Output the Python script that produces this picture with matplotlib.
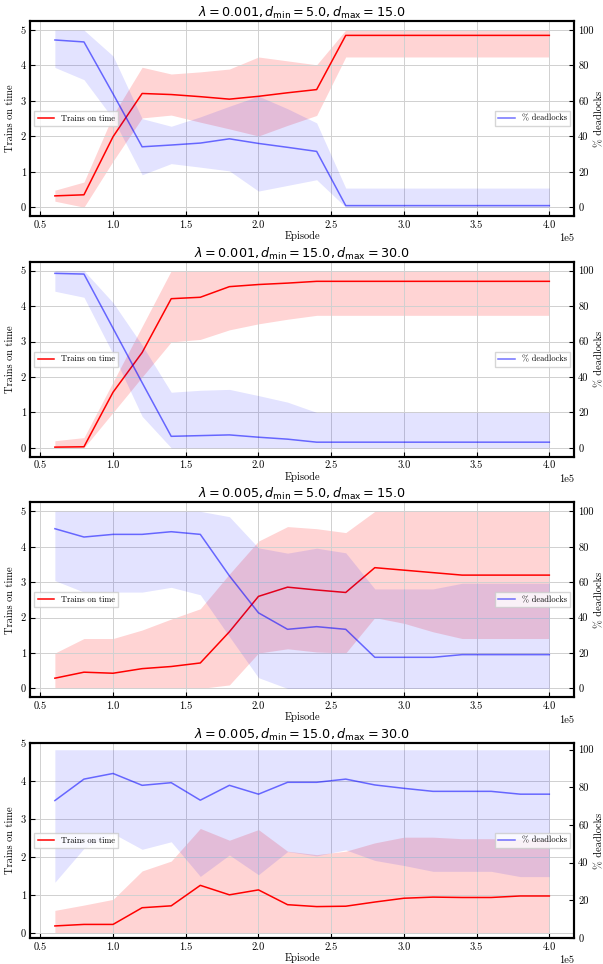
import matplotlib
matplotlib.use('Agg')
import matplotlib.pyplot as plt


episodes = [60000, 80000, 100000, 120000, 140000, 160000, 180000, 200000, 220000,
            240000, 260000, 280000, 300000, 320000, 340000, 360000, 380000, 400000]

titles = [r'$\lambda = 0.001, d_{\mathrm{min}} = 5.0, d_{\mathrm{max}} = 15.0$',
          r'$\lambda = 0.001, d_{\mathrm{min}} = 15.0, d_{\mathrm{max}} = 30.0$',
          r'$\lambda = 0.005, d_{\mathrm{min}} = 5.0, d_{\mathrm{max}} = 15.0$',
          r'$\lambda = 0.005, d_{\mathrm{min}} = 15.0, d_{\mathrm{max}} = 30.0$']

# trains on time (mean, lower, upper)
ontime_mean = [
    [0.32, 0.35, 1.99, 3.21, 3.18, 3.12, 3.05, 3.13, 3.23, 3.32, 4.85, 4.85, 4.85, 4.85, 4.85, 4.85, 4.85, 4.85],
    [0.02, 0.03, 1.57, 2.69, 4.21, 4.25, 4.55, 4.61, 4.65, 4.70, 4.70, 4.70, 4.70, 4.70, 4.70, 4.70, 4.70, 4.70],
    [0.29, 0.46, 0.43, 0.56, 0.62, 0.72, 1.60, 2.60, 2.86, 2.78, 2.71, 3.41, 3.34, 3.27, 3.20, 3.20, 3.20, 3.20],
    [0.18, 0.22, 0.22, 0.66, 0.71, 1.25, 1.00, 1.13, 0.74, 0.69, 0.70, 0.81, 0.91, 0.94, 0.93, 0.93, 0.97, 0.97],
]
ontime_low = [
    [0.17, 0.0, 1.30, 2.52, 2.60, 2.40, 2.21, 2.01, 2.31, 2.59, 4.24, 4.24, 4.24, 4.24, 4.24, 4.24, 4.24, 4.24],
    [0.0, 0.0, 1.00, 2.00, 2.99, 3.06, 3.33, 3.50, 3.63, 3.74, 3.74, 3.74, 3.74, 3.74, 3.74, 3.74, 3.74, 3.74],
    [0.0, 0.0, 0.0, 0.0, 0.0, 0.0, 0.10, 1.00, 1.12, 1.03, 1.00, 2.00, 1.84, 1.60, 1.41, 1.41, 1.41, 1.41],
    [0.0, 0.0, 0.0, 0.0, 0.0, 0.0, 0.0, 0.0, 0.0, 0.0, 0.0, 0.0, 0.0, 0.0, 0.0, 0.0, 0.0, 0.0],
]
ontime_high = [
    [0.48, 0.71, 2.60, 3.95, 3.76, 3.82, 3.90, 4.24, 4.13, 4.02, 5.0, 5.0, 5.0, 5.0, 5.0, 5.0, 5.0, 5.0],
    [0.20, 0.29, 1.86, 3.43, 5.0, 5.0, 5.0, 5.0, 5.0, 5.0, 5.0, 5.0, 5.0, 5.0, 5.0, 5.0, 5.0, 5.0],
    [1.00, 1.41, 1.41, 1.65, 1.96, 2.25, 3.23, 4.16, 4.57, 4.51, 4.40, 5.0, 5.0, 5.0, 5.0, 5.0, 5.0, 5.0],
    [0.59, 0.73, 0.88, 1.63, 1.89, 2.75, 2.44, 2.72, 2.15, 2.06, 2.15, 2.37, 2.52, 2.52, 2.48, 2.48, 2.46, 2.46],
]

# % deadlocks (mean, lower, upper)
deadlock_mean = [
    [94.4, 93.3, 64.0, 34.1, 35.1, 36.2, 38.6, 36.0, 33.8, 31.5, 0.9, 0.9, 0.9, 0.9, 0.9, 0.9, 0.9, 0.9],
    [98.5, 98.1, 67.5, 36.8, 6.5, 6.9, 7.3, 6.0, 4.9, 3.2, 3.2, 3.2, 3.2, 3.2, 3.2, 3.2, 3.2, 3.2],
    [90.2, 85.5, 87.0, 87.0, 88.5, 87.0, 63.6, 42.7, 33.4, 34.9, 33.4, 17.6, 17.6, 17.6, 19.1, 19.1, 19.1, 19.1],
    [73.0, 84.4, 87.4, 81.1, 82.5, 73.2, 81.1, 76.4, 82.7, 82.7, 84.4, 81.3, 79.5, 77.9, 77.9, 77.9, 76.4, 76.4],
]
deadlock_low = [
    [78.9, 72.0, 50.0, 18.3, 24.6, 22.6, 20.5, 9.1, 12.3, 15.5, 0, 0, 0, 0, 0, 0, 0, 0],
    [88.4, 85.0, 53.0, 17.8, 0, 0, 0, 0, 0, 0, 0, 0, 0, 0, 0, 0, 0, 0],
    [60.9, 54.4, 54.4, 54.4, 57.1, 52.9, 29.3, 6.1, 0, 0, 0, 0, 0, 0, 0, 0, 0, 0],
    [29.6, 47.6, 55.5, 47.1, 51.1, 32.7, 44.1, 33.6, 45.9, 43.6, 46.8, 41.2, 38.5, 35.4, 35.4, 35.4, 32.6, 32.6],
]
deadlock_high = [
    [100, 100, 85.4, 50.0, 45.7, 51.0, 57.0, 62.7, 55.6, 47.6, 10.8, 10.8, 10.8, 10.8, 10.8, 10.8, 10.8, 10.8],
    [100, 100, 82.0, 58.0, 31.4, 32.5, 33.0, 29.5, 25.8, 20.0, 20.0, 20.0, 20.0, 20.0, 20.0, 20.0, 20.0, 20.0],
    [100, 100, 100, 100, 100, 100, 97.0, 79.4, 76.4, 79.2, 76.6, 56.2, 56.2, 56.2, 59.4, 59.4, 59.4, 59.4],
    [100, 100, 100, 100, 100, 100, 100, 100, 100, 100, 100, 100, 100, 100, 100, 100, 100, 100],
]


plt.rcParams['font.family'] = ['cmr10', 'DejaVu Serif']
plt.rcParams['axes.linewidth'] = 1.5
plt.rcParams['xtick.direction'] = 'in'
plt.rcParams['ytick.direction'] = 'in'
plt.rcParams['xtick.labelsize'] = 7.5
plt.rcParams['ytick.labelsize'] = 7.5
plt.rcParams['xtick.major.pad'] = 3
plt.rcParams['ytick.major.pad'] = 3


def plot_panel(ax, i):
    ax2 = ax.twinx()

    ax.fill_between(episodes, ontime_low[i], ontime_high[i], color='red', alpha=0.17, linewidth=0)
    l1, = ax.plot(episodes, ontime_mean[i], color='red', linewidth=1.1, label='Trains on time')

    ax2.fill_between(episodes, deadlock_low[i], deadlock_high[i], color='blue', alpha=0.11, linewidth=0)
    l2, = ax2.plot(episodes, deadlock_mean[i], color='blue', alpha=0.55, linewidth=1.1, label='% deadlocks')

    if i == 3:
        ax.set_ylim(top=5)
        ax2.set_ylim(bottom=0)

    ax.ticklabel_format(axis='x', style='sci', scilimits=(0, 0))
    ax.grid(True, color='#d0d0d0', linewidth=0.7)
    ax.set_xlabel('Episode', fontsize=7.5, labelpad=1)
    ax.set_ylabel('Trains on time', fontsize=7.5, labelpad=4)
    ax2.set_ylabel('% deadlocks', fontsize=7.5, labelpad=1)
    ax.set_title(titles[i], fontsize=9.2, family='DejaVu Sans', pad=3)
    ax.xaxis.get_offset_text().set_fontsize(7.5)

    leg1 = ax2.legend(handles=[l1], loc='center left', fontsize=6, fancybox=False)
    ax2.add_artist(leg1)
    ax2.legend(handles=[l2], loc='center right', fontsize=6, fancybox=False)


fig, axes = plt.subplots(4, 1, figsize=(6.03, 9.64), dpi=100)
fig.subplots_adjust(left=0.05, right=0.952, top=0.978, bottom=0.027, hspace=0.235)

for i, ax in enumerate(axes):
    plot_panel(ax, i)

fig.savefig('out.png', dpi=100)
